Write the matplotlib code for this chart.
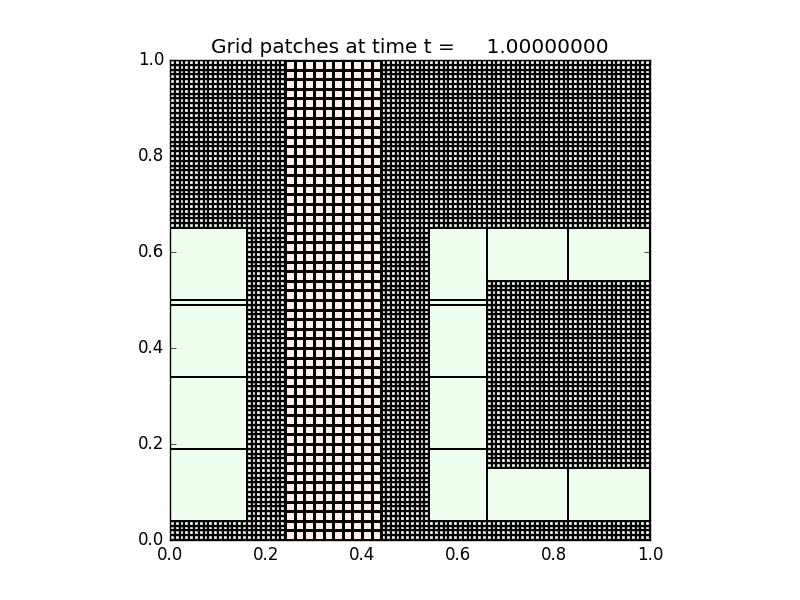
import numpy as np
import matplotlib
matplotlib.use("Agg")
import matplotlib.pyplot as plt
from matplotlib.colors import ListedColormap

# Fine (white) level covering the domain
fine_x0, fine_x1, fine_y0, fine_y1 = 0.0, 1.0, 0.0, 1.0
fine_dx = 0.01

# Pink level patch (cells drawn)
pink_x0, pink_x1, pink_y0, pink_y1 = 0.24, 0.44, 0.0, 1.0
pink_dx = 0.02

# Green patches (edges only): [x0, x1, y0, y1]
green_x0 = [0.00, 0.00, 0.00, 0.00, 0.00, 0.54, 0.54, 0.54, 0.54, 0.54, 0.66, 0.83, 0.66, 0.83]
green_x1 = [0.16, 0.16, 0.16, 0.16, 0.16, 0.66, 0.66, 0.66, 0.66, 0.66, 0.83, 1.00, 0.83, 1.00]
green_y0 = [0.04, 0.19, 0.34, 0.49, 0.50, 0.04, 0.19, 0.34, 0.49, 0.50, 0.54, 0.54, 0.04, 0.04]
green_y1 = [0.19, 0.34, 0.49, 0.50, 0.65, 0.19, 0.34, 0.49, 0.50, 0.65, 0.65, 0.65, 0.15, 0.15]

green_color = '#eeffee'
pink_color = '#ffeeee'

plt.style.use('classic')
fig = plt.figure(figsize=(8, 6), dpi=100)
ax = fig.add_subplot(111)

# fine grid
nfx = int(round((fine_x1 - fine_x0) / fine_dx))
nfy = int(round((fine_y1 - fine_y0) / fine_dx))
xf = np.linspace(fine_x0, fine_x1, nfx + 1)
yf = np.linspace(fine_y0, fine_y1, nfy + 1)
ax.pcolormesh(xf, yf, np.zeros((nfy, nfx)), cmap=ListedColormap(['white']),
              edgecolors='k', linewidth=1.6, antialiased=True, zorder=1)

# green patches
for x0, x1, y0, y1 in zip(green_x0, green_x1, green_y0, green_y1):
    ax.pcolormesh([x0, x1], [y0, y1], np.zeros((1, 1)), cmap=ListedColormap([green_color]),
                  edgecolors='k', linewidth=1.4, zorder=2)

# pink patch
npx = int(round((pink_x1 - pink_x0) / pink_dx))
npy = int(round((pink_y1 - pink_y0) / pink_dx))
xp = np.linspace(pink_x0, pink_x1, npx + 1)
yp = np.linspace(pink_y0, pink_y1, npy + 1)
ax.pcolormesh(xp, yp, np.zeros((npy, npx)), cmap=ListedColormap([pink_color]),
              edgecolors='k', linewidth=1.9, zorder=3)

ax.set_xlim(0, 1)
ax.set_ylim(0, 1)
ax.set_aspect('equal')
ax.set_xticks([0.0, 0.2, 0.4, 0.6, 0.8, 1.0])
ax.set_yticks([0.0, 0.2, 0.4, 0.6, 0.8, 1.0])
ax.set_title('Grid patches at time t =     1.00000000')

fig.savefig('out.png', dpi=100)
